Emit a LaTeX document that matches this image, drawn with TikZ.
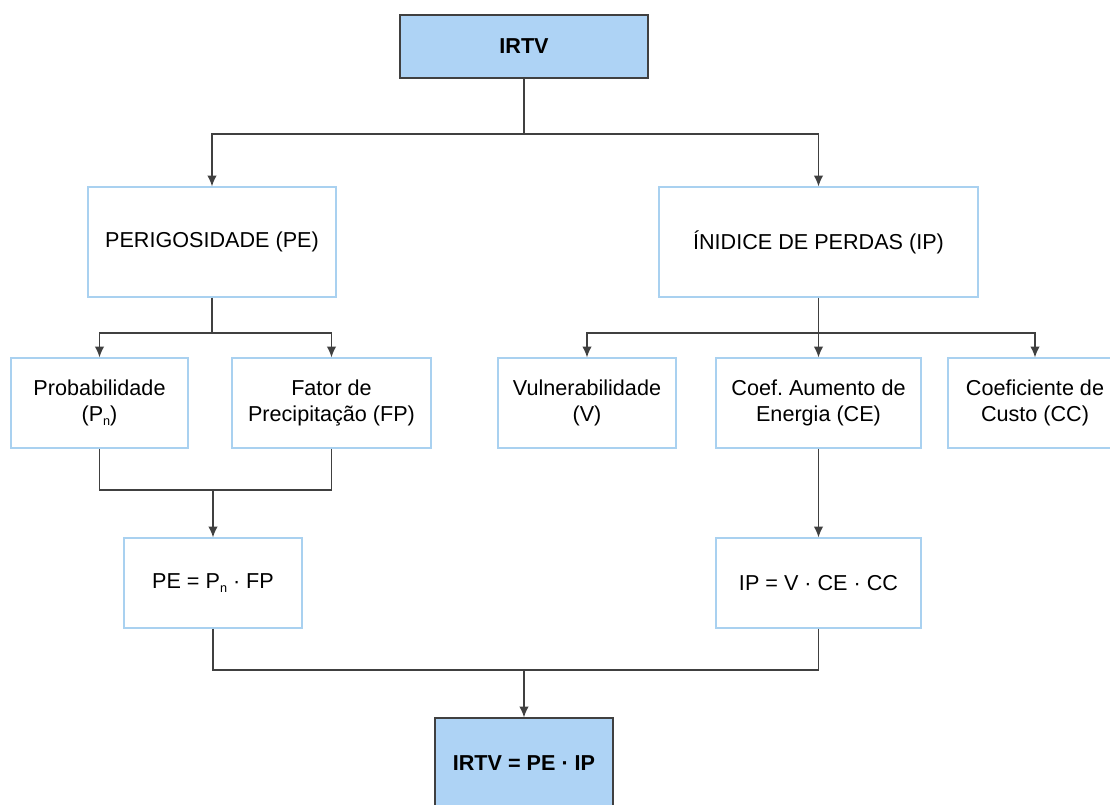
\documentclass[tikz,border=0pt]{standalone}
\usepackage{fontspec}
\setmainfont{Liberation Sans}
\usetikzlibrary{arrows.meta}
\definecolor{bluefill}{HTML}{AED3F5}
\definecolor{blueline}{HTML}{A9D1F0}
\definecolor{darkline}{HTML}{404040}
\newcommand{\subn}{\raisebox{-0.3ex}{\fontsize{9.5}{9.5}\selectfont n}}
\tikzset{
  box/.style={draw=blueline, line width=1pt, fill=white, align=center, inner sep=2pt,
    font=\fontsize{16.2}{19.5}\selectfont},
  keybox/.style={draw=darkline, line width=1pt, fill=bluefill, align=center, inner sep=2pt,
    font=\fontsize{16.2}{19.5}\selectfont\bfseries},
  conn/.style={draw=darkline, line width=0.9pt},
  arr/.style={conn, -{Latex[length=8pt,width=7pt]}}
}
\begin{document}
\begin{tikzpicture}[x=0.75pt,y=-0.75pt]
\useasboundingbox (0,0) rectangle (1110,804);
\begin{scope}
\clip (0,0) rectangle (1110,804);
\node[keybox, minimum width=186pt, minimum height=47.25pt] (irtv) at (524,46.5) {IRTV};
\node[box, minimum width=186pt, minimum height=82.5pt] (pe) at (212,242) {PERIGOSIDADE (PE)};
\node[box, minimum width=239.25pt, minimum height=82.5pt] (ip) at (818.5,242) {ÍNIDICE DE PERDAS (IP)};
\node[box, minimum width=132.75pt, minimum height=67.5pt] (prob) at (99.5,403) {Probabilidade\\(P\subn)};
\node[box, minimum width=149.25pt, minimum height=67.5pt] (fator) at (331.5,403) {Fator de\\Precipitação (FP)};
\node[box, minimum width=133.5pt, minimum height=67.5pt] (vuln) at (587,403) {Vulnerabilidade\\(V)};
\node[box, minimum width=153.75pt, minimum height=67.5pt] (coef) at (818.5,403) {Coef.\ Aumento de\\Energia (CE)};
\node[box, minimum width=130.5pt, minimum height=67.5pt] (coefc) at (1035,403) {Coeficiente de\\Custo (CC)};
\node[box, minimum width=133.5pt, minimum height=67.5pt] (peeq) at (213,583) {PE = P\subn{} · FP};
\node[box, minimum width=153.75pt, minimum height=67.5pt] (ipeq) at (818.5,583) {IP = V · CE · CC};
\node[keybox, minimum width=133.5pt, minimum height=67.5pt] (irtveq) at (524,763) {IRTV = PE · IP};

\coordinate (j1) at (524,134);
\coordinate (j2) at (212,333);
\coordinate (j3) at (213,490);
\coordinate (j4) at (818.5,333);
\coordinate (j5) at (524,670);

\draw[conn] (irtv.south) -- (j1);
\draw[arr] (j1) -| (pe.north);
\draw[arr] (j1) -| (ip.north);

\draw[conn] (pe.south) -- (j2);
\draw[arr] (j2) -| (prob.north);
\draw[arr] (j2) -| (fator.north);

\draw[conn] (prob.south) |- (j3);
\draw[conn] (fator.south) |- (j3);
\draw[arr] (j3) -- (peeq.north);

\draw[conn] (ip.south) -- (j4);
\draw[arr] (j4) -| (vuln.north);
\draw[arr] (j4) -- (coef.north);
\draw[arr] (j4) -| (coefc.north);

\draw[arr] (coef.south) -- (ipeq.north);

\draw[conn] (peeq.south) |- (j5);
\draw[conn] (ipeq.south) |- (j5);
\draw[arr] (j5) -- (irtveq.north);
\end{scope}
\end{tikzpicture}
\end{document}
